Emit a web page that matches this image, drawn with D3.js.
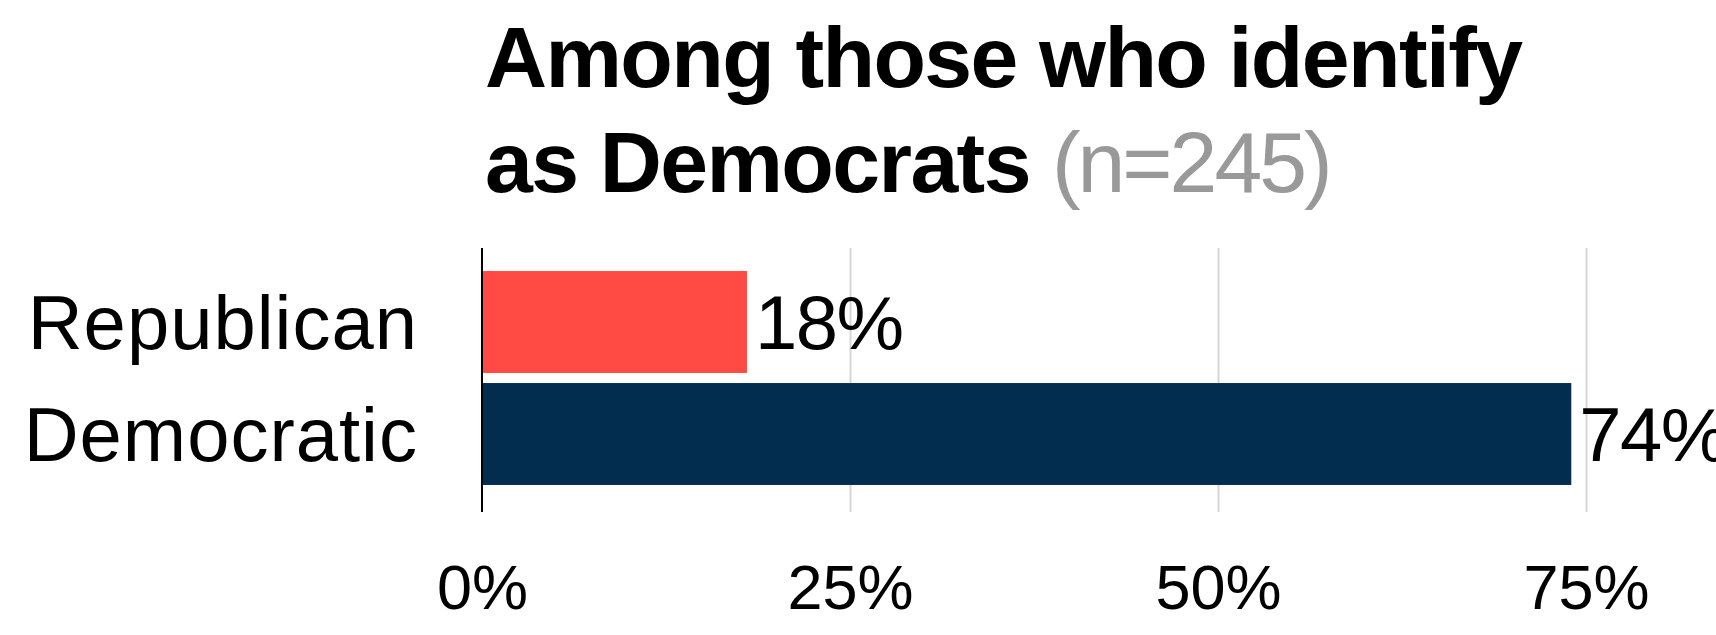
<!DOCTYPE html>
<html>
<head>
<meta charset="utf-8">
<script src="https://cdn.jsdelivr.net/npm/d3@7"></script>
<style>
  html, body { margin: 0; padding: 0; background: #fff; overflow: hidden; }
  svg { display: block; font-family: "Liberation Sans", Arial, sans-serif; }
</style>
</head>
<body>
<script>
// Party identification among self-identified Democrats
const categories = ["Republican", "Democratic"];
const values = [18, 74];
const barColors = ["#ff4b44", "#032d4f"];
const tickValues = [0, 25, 50, 75];
const titleLines = ["Among those who identify", "as Democrats"];
const sampleNote = "(n=245)";

const W = 1716, H = 635;
const svg = d3.select("body").append("svg").attr("width", W).attr("height", H);

const x = d3.scaleLinear().domain([0, 75]).range([482, 1586]);
const y = d3.scaleBand().domain(categories).range([266, 490])
  .paddingInner(0.09).paddingOuter(0.045);

const plotTop = 248, plotBottom = 512;

// Title
const title = svg.append("text")
  .attr("x", 485).attr("y", 87)
  .attr("font-size", 86).attr("font-weight", 700)
  .attr("letter-spacing", -1.6).attr("fill", "#000");
title.append("tspan").attr("x", 485).attr("y", 87).text(titleLines[0]);
title.append("tspan").attr("x", 485).attr("y", 192).text(titleLines[1]);
title.append("tspan").attr("font-weight", 400).attr("fill", "#999")
  .attr("letter-spacing", -3).attr("dx", 22).text(sampleNote);

// Vertical gridlines
const grid = svg.append("g").attr("transform", `translate(0,${plotBottom})`)
  .call(d3.axisBottom(x).tickValues(tickValues.slice(1))
    .tickSize(-(plotBottom - plotTop)).tickFormat(""));
grid.select(".domain").remove();
grid.selectAll(".tick line").attr("stroke", "#d6d6d6").attr("stroke-width", 2);

// Bars
svg.append("g").selectAll("rect")
  .data(categories)
  .join("rect")
  .attr("x", x(0))
  .attr("y", d => y(d))
  .attr("width", (d, i) => x(values[i]) - x(0))
  .attr("height", y.bandwidth())
  .attr("fill", (d, i) => barColors[i]);

// Zero baseline
svg.append("line")
  .attr("x1", x(0)).attr("x2", x(0))
  .attr("y1", plotTop).attr("y2", plotBottom)
  .attr("stroke", "#000").attr("stroke-width", 2);

// Value labels
svg.append("g").selectAll("text")
  .data(categories)
  .join("text")
  .attr("x", (d, i) => x(values[i]) + 8)
  .attr("y", d => y(d) + y.bandwidth() / 2 + 27)
  .attr("font-size", 76)
  .attr("letter-spacing", -1.5)
  .attr("fill", "#000")
  .text((d, i) => values[i] + "%");

// Category axis
const yAxis = svg.append("g").attr("transform", `translate(${x(0)},0)`)
  .call(d3.axisLeft(y).tickSize(0).tickPadding(64));
yAxis.select(".domain").remove();
yAxis.selectAll("text")
  .attr("font-size", 76).attr("font-family", "Liberation Sans, Arial, sans-serif")
  .attr("letter-spacing", 1.0)
  .attr("fill", "#000").attr("dy", "0.36em");

// Percentage axis labels
const xAxis = svg.append("g").attr("transform", `translate(0,${plotBottom})`)
  .call(d3.axisBottom(x).tickValues(tickValues).tickSize(0).tickPadding(52)
    .tickFormat(d => d + "%"));
xAxis.select(".domain").remove();
xAxis.selectAll("text")
  .attr("font-size", 63).attr("font-family", "Liberation Sans, Arial, sans-serif")
  .attr("fill", "#000");
</script>
</body>
</html>
